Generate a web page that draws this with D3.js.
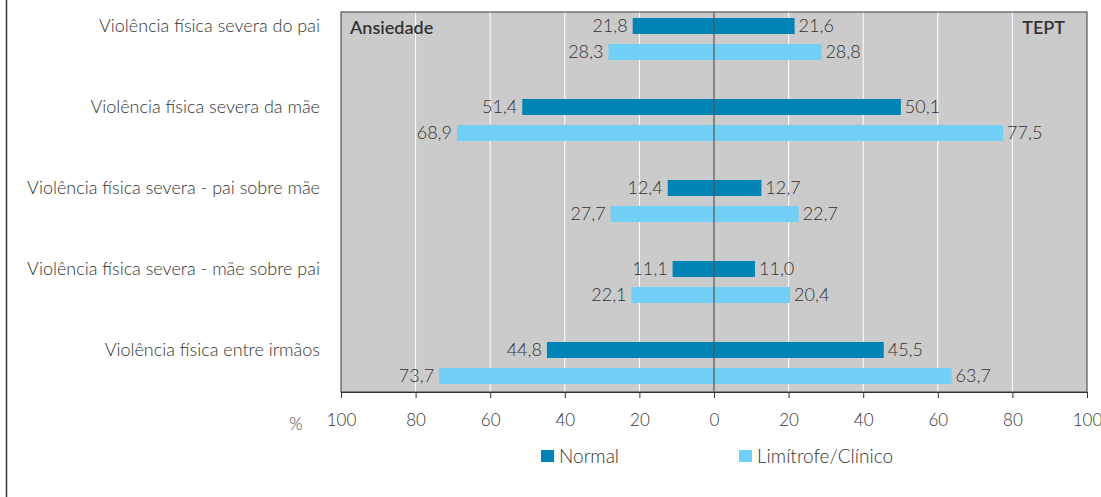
<!DOCTYPE html>
<html>
<head>
<meta charset="utf-8">
<script src="https://cdn.jsdelivr.net/npm/d3@7"></script>
<style>
  body { margin: 0; background: #fff; }
  text { font-family: Lato, "Open Sans", sans-serif; fill: #333; }
</style>
</head>
<body>
<div id="chart"></div>
<script>
// categories (top to bottom)
const categories = [
    "Violência física severa do pai",
    "Violência física severa da mãe",
    "Violência física severa - pai sobre mãe",
    "Violência física severa - mãe sobre pai",
    "Violência física entre irmãos"
];
const series = ["Normal", "Limítrofe/Clínico"];

// Ansiedade (left side)
const ansiedadeNormal = [21.8, 51.4, 12.4, 11.1, 44.8];
const ansiedadeLimitrofe = [28.3, 68.9, 27.7, 22.1, 73.7];
// TEPT (right side)
const teptNormal = [21.6, 50.1, 12.7, 11.0, 45.5];
const teptLimitrofe = [28.8, 77.5, 22.7, 20.4, 63.7];

const tickValues = [-100, -80, -60, -40, -20, 0, 20, 40, 60, 80, 100];
const colors = ["#0083b5", "#72cff5"];

const width = 1101, height = 497;
const plot = { left: 341, right: 1087, top: 12, bottom: 392 };

const svg = d3.select("#chart").append("svg")
    .attr("width", width)
    .attr("height", height);

const x = d3.scaleLinear().domain([-100, 100]).range([plot.left, plot.right]);
const y = d3.scaleBand().domain(categories).range([-2, 403]);
const inner = d3.scaleBand().domain(series).range([20, 62]).paddingInner(0.385);

const fmt = v => d3.format(".1f")(v).replace(".", ",");

// outer left rule
svg.append("line")
    .attr("x1", 6.5).attr("x2", 6.5)
    .attr("y1", 0).attr("y2", height)
    .attr("stroke", "#333").attr("stroke-width", 1.5);

// plot background
svg.append("rect")
    .attr("x", plot.left).attr("y", plot.top)
    .attr("width", plot.right - plot.left)
    .attr("height", plot.bottom - plot.top)
    .attr("fill", "#cbcbcb");

// grid
svg.append("g").selectAll("line")
    .data(tickValues.filter(d => Math.abs(d) !== 100 && d !== 0))
    .join("line")
    .attr("x1", d => x(d)).attr("x2", d => x(d))
    .attr("y1", plot.top).attr("y2", plot.bottom)
    .attr("stroke", "#fff").attr("stroke-width", 1);

// rows of data
const rows = categories.map((c, i) => ({
    cat: c,
    vals: [
        { s: series[0], left: ansiedadeNormal[i], right: teptNormal[i] },
        { s: series[1], left: ansiedadeLimitrofe[i], right: teptLimitrofe[i] }
    ]
}));

const bars = rows.flatMap(r => r.vals.map(v => ({ cat: r.cat, ...v })));

svg.append("g").selectAll("rect")
    .data(bars)
    .join("rect")
    .attr("x", d => x(-d.left))
    .attr("y", d => y(d.cat) + inner(d.s))
    .attr("width", d => x(d.right) - x(-d.left))
    .attr("height", inner.bandwidth())
    .attr("fill", d => colors[series.indexOf(d.s)]);

// value labels
svg.append("g").selectAll("text")
    .data(bars)
    .join("text")
    .attr("x", d => x(-d.left) - 5)
    .attr("y", d => y(d.cat) + inner(d.s) + inner.bandwidth() / 2)
    .attr("dy", "0.36em")
    .attr("text-anchor", "end")
    .style("font-size", "18px")
    .style("font-weight", 300)
    .text(d => fmt(d.left));

svg.append("g").selectAll("text")
    .data(bars)
    .join("text")
    .attr("x", d => x(d.right) + 4)
    .attr("y", d => y(d.cat) + inner(d.s) + inner.bandwidth() / 2)
    .attr("dy", "0.36em")
    .style("font-size", "18px")
    .style("font-weight", 300)
    .text(d => fmt(d.right));

// center line
svg.append("line")
    .attr("x1", x(0)).attr("x2", x(0))
    .attr("y1", plot.top).attr("y2", plot.bottom)
    .attr("stroke", "#555").attr("stroke-width", 1.2);

// plot frame
svg.append("rect")
    .attr("x", plot.left).attr("y", plot.top)
    .attr("width", plot.right - plot.left)
    .attr("height", plot.bottom - plot.top)
    .attr("fill", "none")
    .attr("stroke", "#555").attr("stroke-width", 1.2);

// category labels
svg.append("g").selectAll("text")
    .data(categories)
    .join("text")
    .attr("x", 320)
    .attr("y", d => y(d) + inner(series[0]) + inner.bandwidth() / 2)
    .attr("dy", "0.36em")
    .attr("text-anchor", "end")
    .style("font-size", "18px")
    .style("font-weight", 300)
    .text(d => d);

// x axis
const axis = svg.append("g")
    .attr("transform", `translate(0,${plot.bottom})`)
    .call(d3.axisBottom(x).tickValues(tickValues).tickSize(6).tickPadding(16)
        .tickFormat(d => Math.abs(d)));
axis.select(".domain").attr("stroke", "#333");
axis.selectAll(".tick line").attr("stroke", "#333");
axis.selectAll(".tick text")
    .attr("fill", "#444")
    .style("font-family", "Lato, sans-serif")
    .style("font-size", "17px")
    .style("font-weight", 300);

svg.append("text")
    .attr("x", 296).attr("y", 430)
    .attr("text-anchor", "middle")
    .style("font-size", "17px")
    .style("font-weight", 300)
    .style("fill", "#444")
    .text("%");

// panel titles
svg.append("text")
    .attr("x", 350).attr("y", 34)
    .style("font-size", "18px")
    .style("font-weight", 600)
    .text("Ansiedade");
svg.append("text")
    .attr("x", 1065).attr("y", 34)
    .attr("text-anchor", "end")
    .style("font-size", "18px")
    .style("font-weight", 600)
    .text("TEPT");

// legend
const legendX = [541, 739];
const legend = svg.append("g").selectAll("g")
    .data(series)
    .join("g")
    .attr("transform", (d, i) => `translate(${legendX[i]},450)`);
legend.append("rect")
    .attr("width", 13).attr("height", 12)
    .attr("fill", (d, i) => colors[i]);
legend.append("text")
    .attr("x", 18).attr("y", 6)
    .attr("dy", "0.36em")
    .style("font-size", "19px")
    .style("font-weight", 300)
    .text(d => d);
</script>
</body>
</html>
